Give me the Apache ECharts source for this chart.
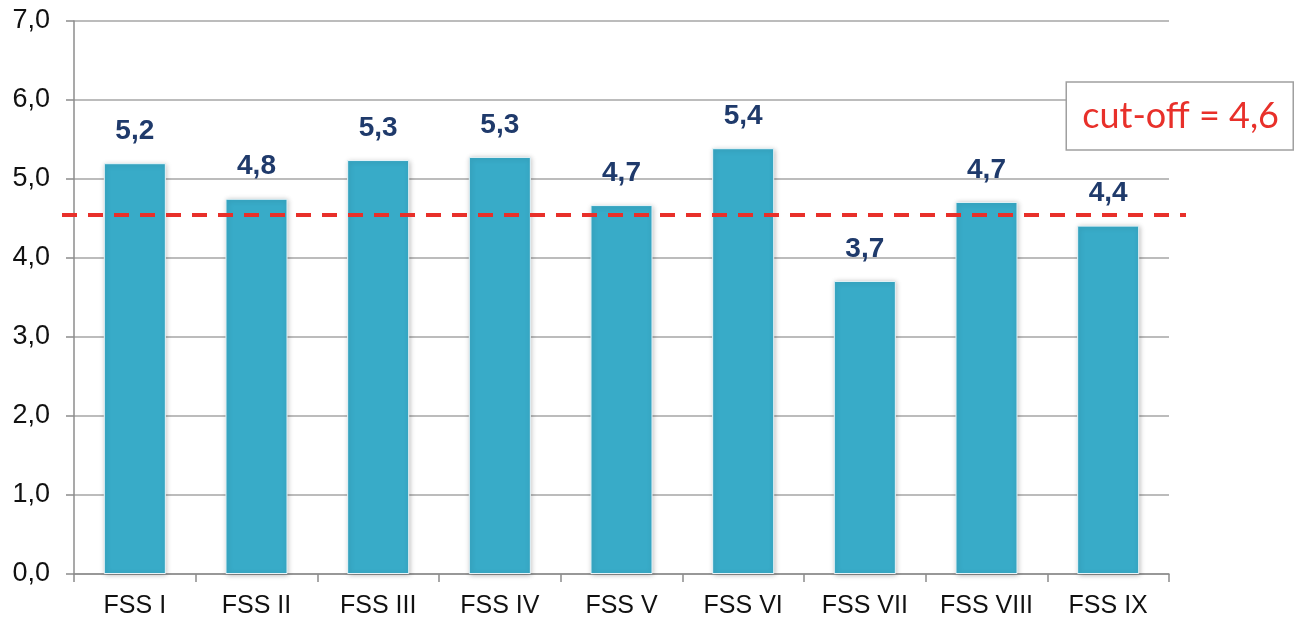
<!DOCTYPE html>
<html>
<head>
<meta charset="utf-8">
<script src="https://cdn.jsdelivr.net/npm/echarts@6/dist/echarts.min.js"></script>
<style>html,body{margin:0;padding:0;background:#fff}#c{width:1296px;height:621px}</style>
</head>
<body>
<div id="c"></div>
<script>
const categories = ['FSS I','FSS II','FSS III','FSS IV','FSS V','FSS VI','FSS VII','FSS VIII','FSS IX'];
const values = [5.20, 4.75, 5.24, 5.28, 4.67, 5.39, 3.71, 4.71, 4.41];
const valueLabels = ['5,2','4,8','5,3','5,3','4,7','5,4','3,7','4,7','4,4'];
const cutoffLine = 4.55;
const cutoffText = 'cut-off = 4,6';

const chart = echarts.init(document.getElementById('c'), null, {renderer:'canvas'});
chart.setOption({
  animation: false,
  backgroundColor: '#fff',
  title: {
    text: cutoffText,
    right: 3, top: 82,
    padding: [15, 14, 15, 16],
    borderColor: '#a0a0a0', borderWidth: 1.5,
    backgroundColor: '#fff',
    textStyle: {color: '#e8302a', fontSize: 36, fontWeight: 'normal', fontFamily: 'Lato, "Open Sans", sans-serif', lineHeight: 38}
  },
  grid: [
    {left: 74, right: 127, top: 21, bottom: 47},
    {left: 62, right: 110, top: 21, bottom: 47}
  ],
  xAxis: [{
    type: 'category', data: categories, gridIndex: 0,
    axisLine: {lineStyle: {color: '#8c8c8c', width: 1.5}},
    axisTick: {show: true, length: 8, lineStyle: {color: '#8c8c8c', width: 1.5}},
    axisLabel: {color: '#111', fontSize: 25, fontFamily: '"Liberation Sans", Arial, sans-serif', margin: 20}
  }, {
    type: 'category', data: categories, gridIndex: 1, show: false
  }],
  yAxis: [{
    type: 'value', min: 0, max: 7, interval: 1, gridIndex: 0,
    axisLine: {show: true, lineStyle: {color: '#8c8c8c', width: 1.5}},
    axisTick: {show: true, length: 8, lineStyle: {color: '#8c8c8c', width: 1.5}},
    splitLine: {lineStyle: {color: '#a6a6a6', width: 1.5}},
    axisLabel: {color: '#111', fontSize: 27, fontFamily: '"Liberation Sans", Arial, sans-serif', margin: 24,
      formatter: v => v.toFixed(1).replace('.', ',')}
  }, {
    type: 'value', min: 0, max: 7, interval: 1, gridIndex: 1, show: false, splitLine: {show: false}
  }],
  series: [{
    type: 'bar', data: values, xAxisIndex: 0, yAxisIndex: 0,
    barWidth: '51%',
    itemStyle: {color: '#38abc8', borderColor: '#e8f4f8', borderWidth: 1, shadowBlur: 5, shadowColor: 'rgba(0,0,0,0.25)', shadowOffsetX: 1, shadowOffsetY: 1},
    label: {show: true, position: 'top', distance: 18,
      formatter: p => valueLabels[p.dataIndex],
      color: '#1f3a6b', fontSize: 28, fontWeight: 'bold', fontFamily: '"Liberation Sans", Arial, sans-serif'}
  }, {
    type: 'line', data: [], xAxisIndex: 1, yAxisIndex: 1,
    markLine: {
      silent: true, symbol: ['none','none'],
      label: {show: false},
      lineStyle: {color: '#e8302a', type: [15, 11], width: 4},
      data: [{yAxis: cutoffLine}]
    }
  }]
});
</script>
</body>
</html>
